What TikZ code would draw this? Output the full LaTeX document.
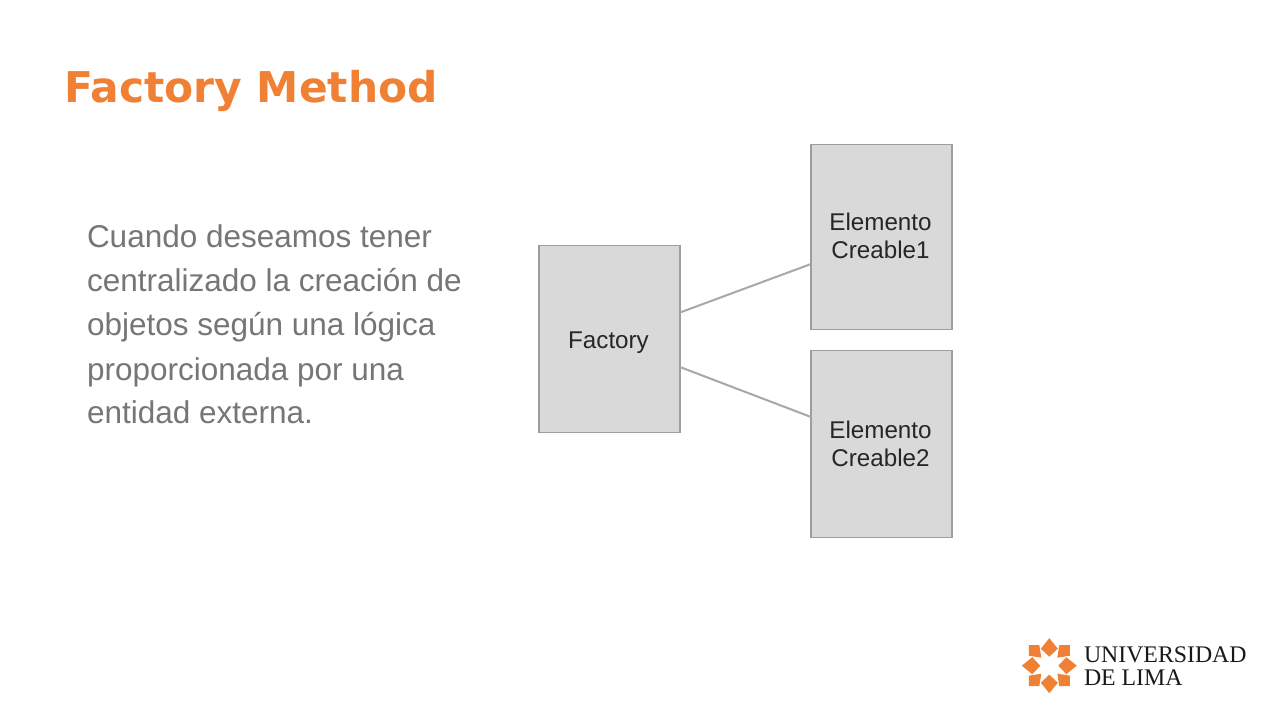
\documentclass[tikz,border=0pt]{standalone}
\usepackage{fontspec}
\setmainfont{Liberation Sans}
\newfontfamily\titlefont{DejaVu Sans}
\newfontfamily\logofont{Liberation Serif}
\definecolor{brandorange}{RGB}{240,128,51}
\definecolor{boxfill}{RGB}{217,217,217}
\definecolor{boxline}{RGB}{158,158,158}
\definecolor{bodygray}{RGB}{118,118,118}
\tikzset{
  every node/.style={inner sep=0pt,outer sep=0pt},
  umlbox/.style={draw=boxline,fill=boxfill,line width=1.9pt,minimum width=141pt},
  boxtext/.style={align=center,font=\fontsize{24.2}{28}\selectfont,text=black!85},
  link/.style={draw=boxline!90,line width=2pt},
  bodyline/.style={anchor=base west,font=\fontsize{31.5}{36}\selectfont,text=bodygray},
  logotext/.style={anchor=base west,font=\logofont\fontsize{23.8}{26}\selectfont,text=black!90}
}
\begin{document}
\begin{tikzpicture}[x=1pt,y=-1pt]
\useasboundingbox (0,0) rectangle (1280,720);
\fill[white] (0,0) rectangle (1280,720);
\node[anchor=base west,font=\titlefont\bfseries\fontsize{42.4}{50}\selectfont,text=brandorange] (title) at (64,102) {Factory Method};
\node[bodyline] (l1) at (87,247) {Cuando deseamos tener};
\node[bodyline] (l2) at (87,291) {centralizado la creación de};
\node[bodyline] (l3) at (87,335) {objetos según una lógica};
\node[bodyline] (l4) at (87,380) {proporcionada por una};
\node[bodyline] (l5) at (87,423) {entidad externa.};
\node[umlbox,minimum height=187pt] (factory) at (609.5,339) {};
\node[umlbox,minimum height=185pt] (e1) at (881.5,237) {};
\node[umlbox,minimum height=187pt] (e2) at (881.5,444) {};
\node[boxtext] (tf) at (608.5,342.5) {Factory};
\node[boxtext] (t1) at (880.5,236) {Elemento\\Creable1};
\node[boxtext] (t2) at (880.5,444) {Elemento\\Creable2};
\coordinate (f1) at (680,312.5);
\coordinate (f2) at (680,367);
\coordinate (c1) at (811,264);
\coordinate (c2) at (811,417);
\draw[link] (f1) -- (c1);
\draw[link] (f2) -- (c2);
% logo
\begin{scope}[shift={(1049.3,665.7)}]
\foreach \a in {0,90,180,270} {
  \begin{scope}[rotate=\a]
    \fill[brandorange] (0,-27.5) -- (8.5,-17) -- (0,-9) -- (-8.5,-17) -- cycle;
    \fill[brandorange] (20.5,-20.5) -- (10,-20.5) -- (8,-8) -- (20.5,-10) -- cycle;
  \end{scope}
}
\end{scope}
\node[logotext] (u) at (1084,662) {UNIVERSIDAD};
\node[logotext] (d) at (1084,685) {DE LIMA};
\end{tikzpicture}
\end{document}
